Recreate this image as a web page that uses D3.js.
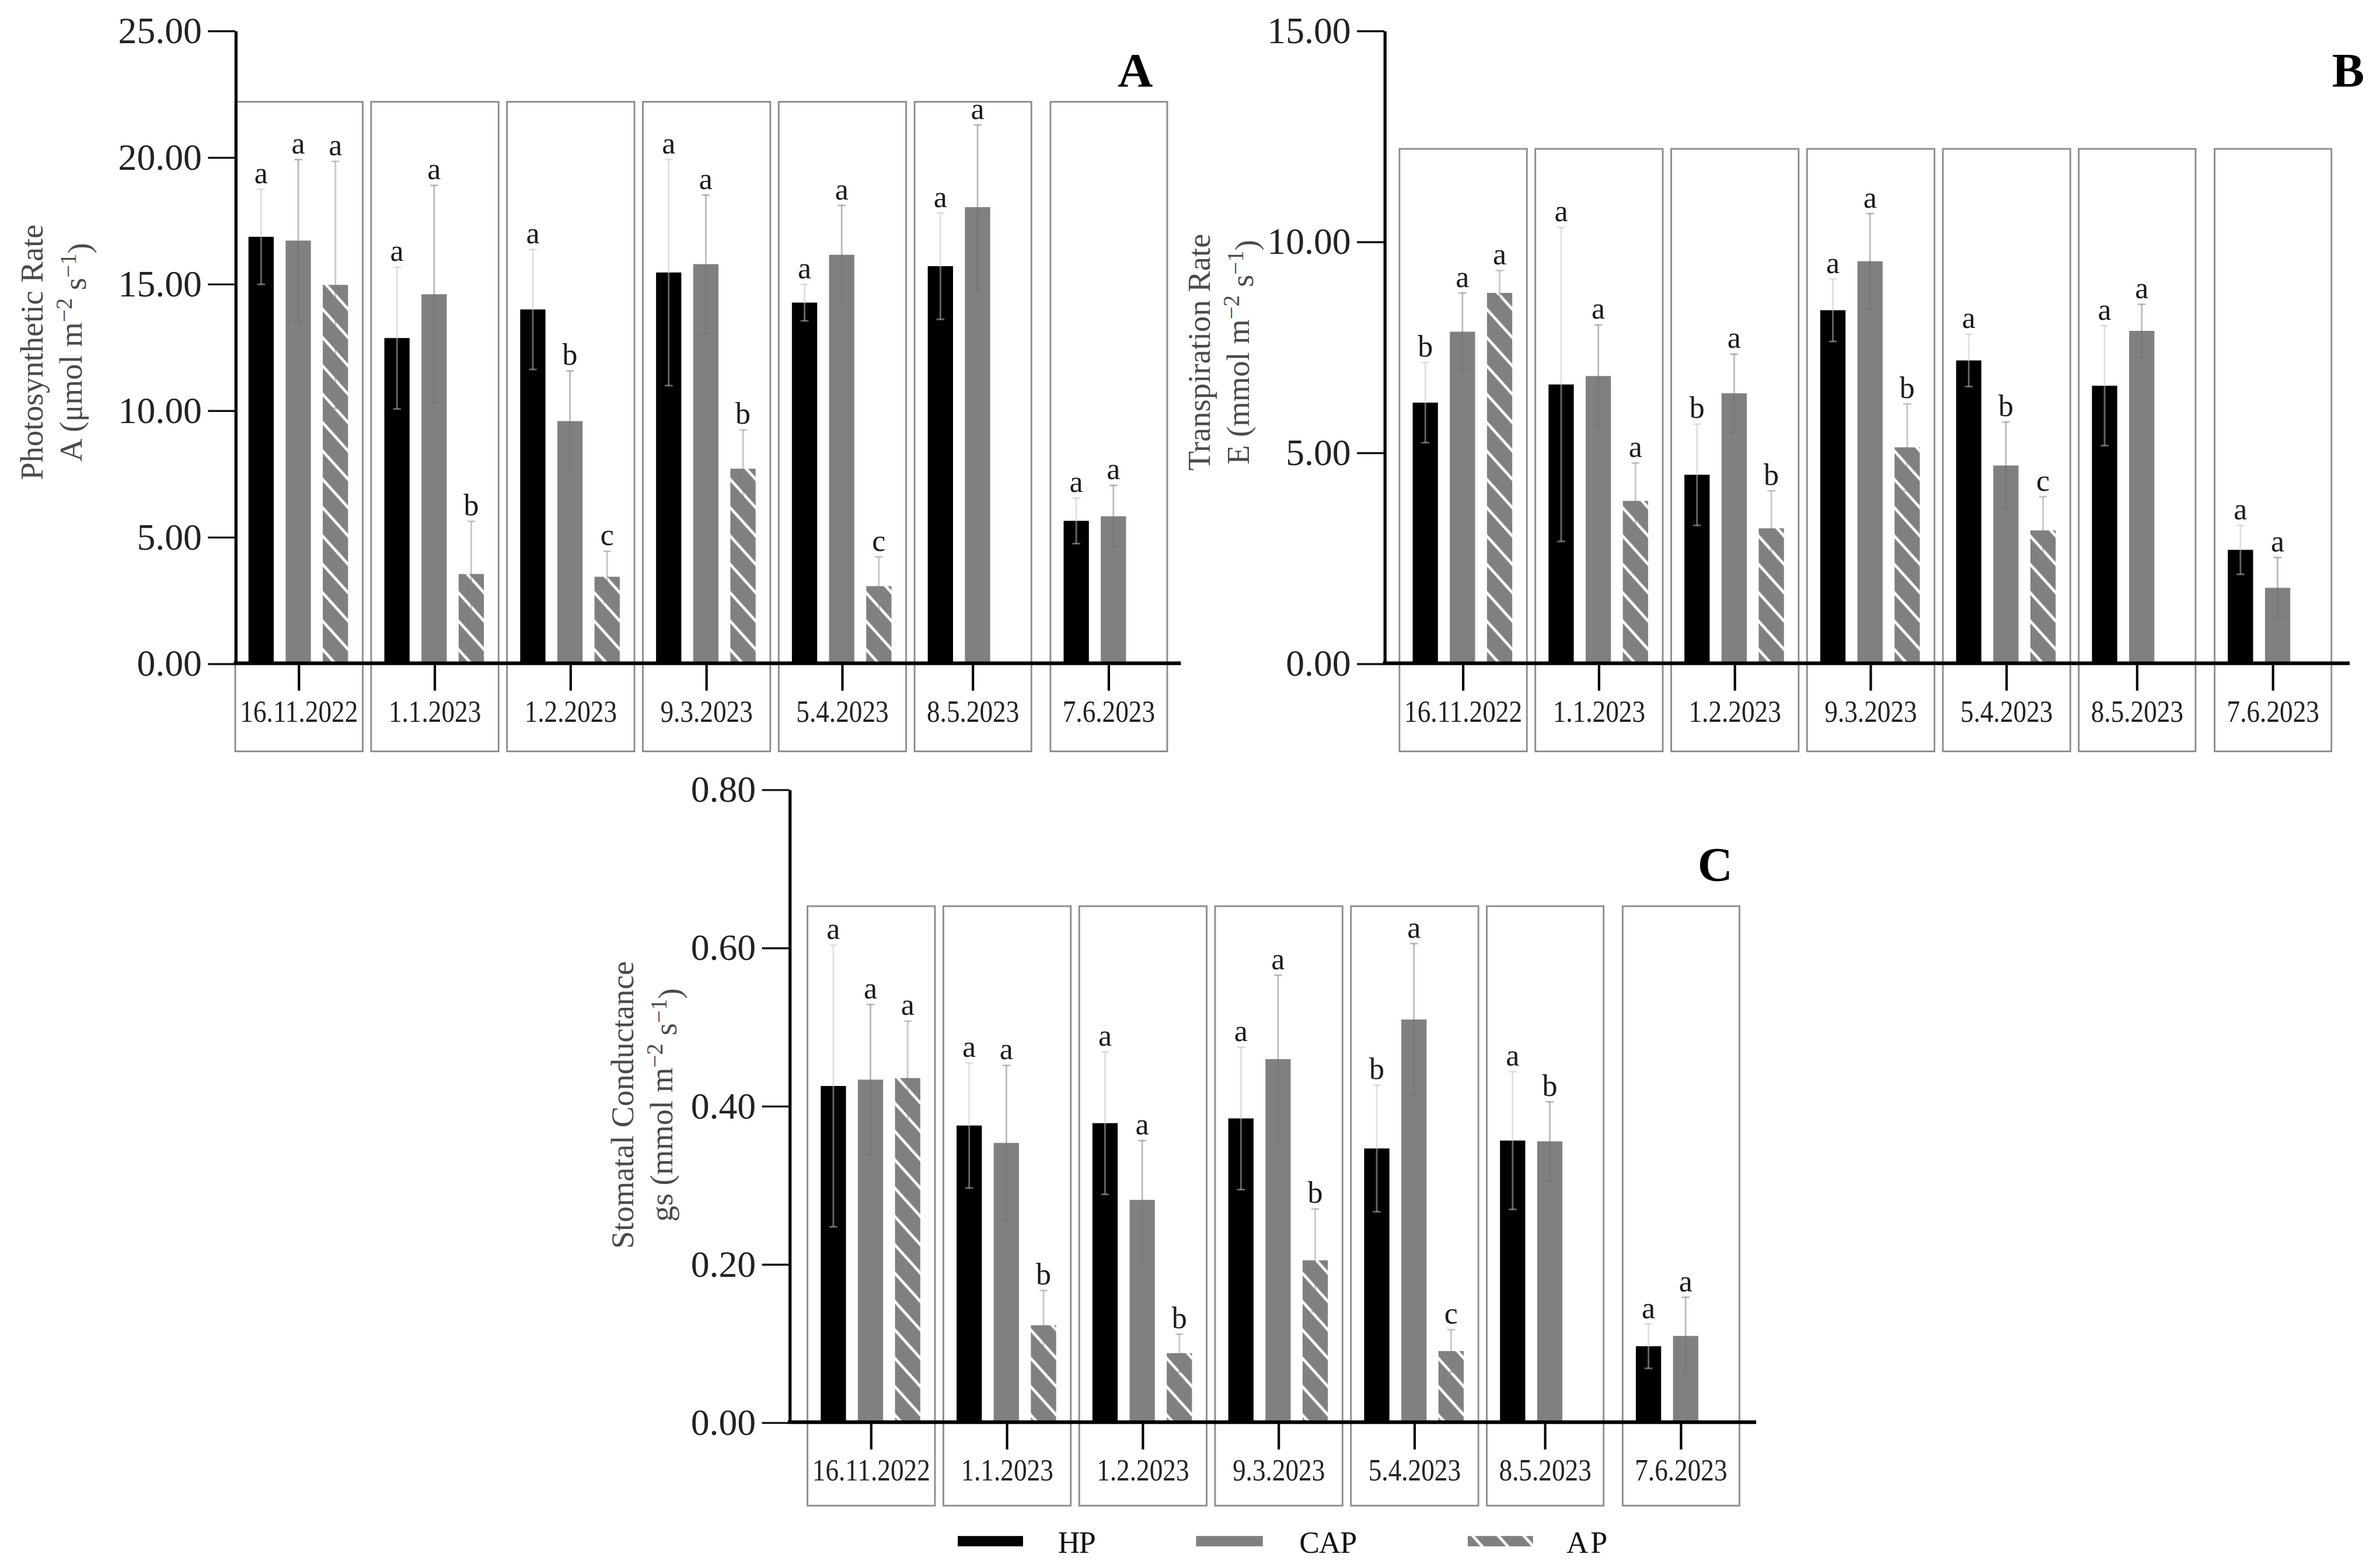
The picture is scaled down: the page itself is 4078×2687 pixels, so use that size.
<!DOCTYPE html>
<meta charset="utf-8">
<html>
<head>
<style>
  body { margin: 0; background: #fff; }
  svg text { font-family: 'Liberation Serif', 'Times New Roman', serif; }
</style>
</head>
<body>
<div id="chartContainer"></div>
<script src="https://cdn.jsdelivr.net/npm/d3@7"></script>
<script type="text/javascript">
// ---- data ----
var dates = ["16.11.2022", "1.1.2023", "1.2.2023", "9.3.2023", "5.4.2023", "8.5.2023", "7.6.2023"];
var groups = ["HP", "CAP", "AP"];

// A: photosynthetic rate
var aHP     = [16.85, 12.85, 13.98, 15.44, 14.25, 15.69, 5.63];
var aHPsd   = [1.88, 2.8, 2.37, 4.47, 0.72, 2.1, 0.9];
var aHPlet  = ["a", "a", "a", "a", "a", "a", "a"];
var aCAP    = [16.7, 14.58, 9.57, 15.77, 16.14, 18.02, 5.81];
var aCAPsd  = [3.2, 4.3, 1.98, 2.73, 1.95, 3.25, 1.22];
var aCAPlet = ["a", "a", "b", "a", "a", "a", "a"];
var aAP     = [14.95, 3.53, 3.42, 7.69, 3.05, null, null];
var aAPsd   = [4.88, 2.08, 1.01, 1.53, 1.16, null, null];
var aAPlet  = ["a", "b", "c", "b", "c", null, null];

// B: transpiration rate
var bHP     = [6.18, 6.61, 4.47, 8.37, 7.18, 6.58, 2.69];
var bHPsd   = [0.95, 3.72, 1.2, 0.74, 0.62, 1.42, 0.58];
var bHPlet  = ["b", "a", "b", "a", "a", "a", "a"];
var bCAP    = [7.86, 6.81, 6.4, 9.53, 4.69, 7.88, 1.79];
var bCAPsd  = [0.92, 1.21, 0.93, 1.13, 1.03, 0.63, 0.72];
var bCAPlet = ["a", "a", "a", "a", "b", "a", "a"];
var bAP     = [8.78, 3.85, 3.2, 5.12, 3.15, null, null];
var bAPsd   = [0.53, 0.9, 0.89, 1.03, 0.8, null, null];
var bAPlet  = ["a", "a", "b", "b", "c", null, null];

// C: stomatal conductance
var cHP     = [0.425, 0.375, 0.378, 0.384, 0.346, 0.356, 0.096];
var cHPsd   = [0.178, 0.079, 0.09, 0.09, 0.08, 0.087, 0.028];
var cHPlet  = ["a", "a", "a", "a", "b", "a", "a"];
var cCAP    = [0.433, 0.353, 0.281, 0.459, 0.509, 0.355, 0.109];
var cCAPsd  = [0.095, 0.098, 0.075, 0.106, 0.096, 0.05, 0.049];
var cCAPlet = ["a", "a", "a", "a", "a", "b", "a"];
var cAP     = [0.435, 0.1225, 0.0873, 0.2046, 0.0899, null, null];
var cAPsd   = [0.072, 0.044, 0.024, 0.065, 0.027, null, null];
var cAPlet  = ["a", "b", "b", "b", "c", null, null];

var yTicksA = [0, 5, 10, 15, 20, 25];
var yTicksB = [0, 5, 10, 15];
var yTicksC = [0, 0.2, 0.4, 0.6, 0.8];

// ---- svg ----
var svg = d3.select("#chartContainer").append("svg")
  .attr("width", 4078).attr("height", 2687)
  .attr("viewBox", "0 0 1568 1033");

var defs = svg.append("defs");
var pat = defs.append("pattern")
  .attr("id", "hatch")
  .attr("patternUnits", "userSpaceOnUse")
  .attr("width", 12.5).attr("height", 12.5)
  .attr("patternTransform", "rotate(48)");
pat.append("rect").attr("width", 12.5).attr("height", 12.5).attr("fill", "#808080");
pat.append("line").attr("x1", 0).attr("y1", 6).attr("x2", 12.5).attr("y2", 6)
  .attr("stroke", "#fff").attr("stroke-width", 1.8);

var fills = { HP: "#000", CAP: "#808080", AP: "url(#hatch)" };
// semi transparent error bars: light over white, visible inside the bars
var errCol = { HP: "rgb(195,195,195)", CAP: "rgb(110,110,110)", AP: "rgb(130,130,130)" };
var errOp = { HP: 0.52, CAP: 0.47, AP: 0.45 };

function rows(m1, s1, l1, m2, s2, l2, m3, s3, l3) {
  return dates.map(function (d, i) {
    var r = [
      { g: "HP", v: m1[i], sd: s1[i], l: l1[i] },
      { g: "CAP", v: m2[i], sd: s2[i], l: l2[i] },
      { g: "AP", v: m3[i], sd: s3[i], l: l3[i] }
    ].filter(function (e) { return e.v != null; });
    return { date: d, bars: r };
  });
}

var serif = "'Liberation Serif', 'Times New Roman', serif";

function panel(cfg) {
  var data = cfg.data;
  var g = svg.append("g");
  var x = d3.scaleBand().domain(dates).range([cfg.boxStart, cfg.boxEnd]).paddingInner(0.062);
  var xi = d3.scaleBand().domain(groups).range([8.7, 74.3]).paddingInner(0.32);
  var y = d3.scaleLinear().domain(cfg.domain).range([cfg.axisY, cfg.top]);
  var boxW = function (d) { return d.bars.length === 3 ? x.bandwidth() : x.bandwidth() - 7; };

  // group boxes
  g.selectAll("rect.box").data(data).enter().append("rect")
    .attr("x", function (d) { return x(d.date); })
    .attr("y", cfg.boxTop)
    .attr("width", boxW)
    .attr("height", cfg.boxBottom - cfg.boxTop)
    .attr("fill", "none").attr("stroke", "#8c8c8c").attr("stroke-width", 1.1);

  var grp = g.selectAll("g.grp").data(data).enter().append("g")
    .attr("transform", function (d) { return "translate(" + x(d.date) + ",0)"; });

  grp.selectAll("rect.bar").data(function (d) { return d.bars; }).enter().append("rect")
    .attr("x", function (d) { return xi(d.g); })
    .attr("y", function (d) { return y(d.v); })
    .attr("width", xi.bandwidth())
    .attr("height", function (d) { return y(0) - y(d.v); })
    .attr("fill", function (d) { return fills[d.g]; });

  // error bars
  var eb = grp.selectAll("g.err").data(function (d) { return d.bars; }).enter().append("g")
    .attr("stroke", function (d) { return errCol[d.g]; })
    .attr("stroke-width", 1.1)
    .attr("stroke-opacity", function (d) { return errOp[d.g]; });
  eb.append("line")
    .attr("x1", function (d) { return xi(d.g) + xi.bandwidth() / 2; })
    .attr("x2", function (d) { return xi(d.g) + xi.bandwidth() / 2; })
    .attr("y1", function (d) { return y(d.v - d.sd); })
    .attr("y2", function (d) { return y(d.v + d.sd); });
  eb.selectAll("line.cap").data(function (d) { return [[d, d.v - d.sd], [d, d.v + d.sd]]; })
    .enter().append("line")
    .attr("x1", function (d) { return xi(d[0].g) + xi.bandwidth() / 2 - 2.6; })
    .attr("x2", function (d) { return xi(d[0].g) + xi.bandwidth() / 2 + 2.6; })
    .attr("y1", function (d) { return y(d[1]); })
    .attr("y2", function (d) { return y(d[1]); });

  // significance letters
  grp.selectAll("text.let").data(function (d) { return d.bars; }).enter().append("text")
    .attr("x", function (d) { return xi(d.g) + xi.bandwidth() / 2; })
    .attr("y", function (d) { return y(d.v + d.sd) - 4; })
    .attr("text-anchor", "middle")
    .style("font-size", "20px").style("fill", "#1a1a1a")
    .text(function (d) { return d.l; });

  // y axis
  var ya = g.append("g").attr("transform", "translate(" + cfg.axisX + ",0)")
    .attr("font-family", serif)
    .call(d3.axisLeft(y).tickValues(cfg.ticks).tickFormat(d3.format(".2f")).tickSize(18).tickSizeOuter(0).tickPadding(4));
  ya.select(".domain").attr("stroke", "#000").attr("stroke-width", 2);
  ya.selectAll(".tick line").attr("stroke", "#111").attr("stroke-width", 1.3);
  ya.selectAll(".tick text").style("font-size", "24.5px").style("font-family", serif).attr("fill", "#222");

  // x axis
  g.append("line").attr("x1", cfg.axisX - 1).attr("x2", cfg.axisEnd)
    .attr("y1", cfg.axisY).attr("y2", cfg.axisY)
    .attr("stroke", "#000").attr("stroke-width", 2.4);
  var xa = g.append("g").attr("transform", "translate(0," + cfg.axisY + ")")
    .attr("font-family", serif)
    .call(d3.axisBottom(x).tickSize(18).tickSizeOuter(0).tickPadding(6.4));
  xa.select(".domain").remove();
  xa.selectAll(".tick").attr("transform", function (d, i) {
    return "translate(" + (x(d) + boxW(data[i]) / 2) + ",0)";
  });
  xa.selectAll(".tick line").attr("stroke", "#000").attr("stroke-width", 1.6);
  xa.selectAll(".tick text").style("font-size", "20px").style("font-family", serif)
    .attr("fill", "#222").attr("transform", "scale(0.87,1)");

  // panel letter
  g.append("text").attr("x", cfg.letterX).attr("y", cfg.letterY)
    .attr("text-anchor", "middle").style("font-size", "32px").style("font-weight", "bold")
    .text(cfg.letter);

  // y title
  var t = g.append("text").attr("transform", "translate(" + cfg.titleX + "," + cfg.titleY + ") rotate(-90)")
    .attr("text-anchor", "middle").style("font-size", "21px").attr("fill", "#4a4a4a");
  t.append("tspan").attr("x", 0).attr("dy", 0).text(cfg.title1);
  var t2 = t.append("tspan").attr("x", 0).attr("dy", 26);
  t2.append("tspan").text(cfg.title2 + " m");
  t2.append("tspan").attr("dy", "-0.45em").style("font-size", "15px").text("\u22122");
  t2.append("tspan").attr("dy", "0.45em").text(" s");
  t2.append("tspan").attr("dy", "-0.45em").style("font-size", "15px").text("\u22121");
  t2.append("tspan").attr("dy", "0.45em").text(")");
}

panel({
  data: rows(aHP, aHPsd, aHPlet, aCAP, aCAPsd, aCAPlet, aAP, aAPsd, aAPlet),
  domain: [0, 25], ticks: yTicksA,
  axisX: 155, axisY: 437, top: 20, axisEnd: 778,
  boxStart: 155, boxEnd: 776, boxTop: 67, boxBottom: 495,
  letter: "A", letterX: 748, letterY: 57,
  titleX: 28, titleY: 232, title1: "Photosynthetic Rate", title2: "A (\u03bcmol"
});

panel({
  data: rows(bHP, bHPsd, bHPlet, bCAP, bCAPsd, bCAPlet, bAP, bAPsd, bAPlet),
  domain: [0, 15], ticks: yTicksB,
  axisX: 912, axisY: 437, top: 20, axisEnd: 1548,
  boxStart: 922, boxEnd: 1543, boxTop: 98, boxBottom: 495,
  letter: "B", letterX: 1547, letterY: 57,
  titleX: 797, titleY: 232, title1: "Transpiration Rate", title2: "E (mmol"
});

panel({
  data: rows(cHP, cHPsd, cHPlet, cCAP, cCAPsd, cCAPlet, cAP, cAPsd, cAPlet),
  domain: [0, 0.8], ticks: yTicksC,
  axisX: 520, axisY: 937, top: 520, axisEnd: 1157,
  boxStart: 532, boxEnd: 1153, boxTop: 597, boxBottom: 992,
  letter: "C", letterX: 1130, letterY: 580,
  titleX: 417, titleY: 728, title1: "Stomatal Conductance", title2: "gs (mmol"
});

// legend
var legX = [631, 788, 967];
var legW = [43, 44, 43];
var legTX = [697, 856, 1032];
var leg = svg.append("g");
leg.selectAll("rect").data(groups).enter().append("rect")
  .attr("x", function (d, i) { return legX[i]; })
  .attr("y", 1012).attr("width", function (d, i) { return legW[i]; }).attr("height", 6.8)
  .attr("fill", function (d) { return fills[d]; });
leg.selectAll("text").data(groups).enter().append("text")
  .attr("x", function (d, i) { return legTX[i]; })
  .attr("y", 1023)
  .style("font-size", "20px").attr("fill", "#111")
  .attr("textLength", function (d) { return d === "HP" ? 25 : d === "CAP" ? 38 : 27; })
  .text(function (d) { return d; });
</script>
</body>
</html>
